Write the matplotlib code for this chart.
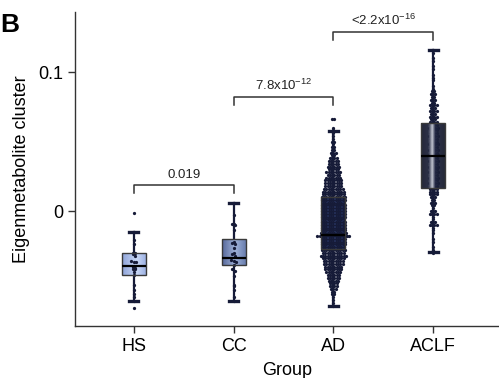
import numpy as np
import matplotlib
matplotlib.use('Agg')
import matplotlib.pyplot as plt
from matplotlib.colors import LinearSegmentedColormap

plt.rcParams['font.family'] = ['Liberation Sans', 'DejaVu Sans']
plt.rcParams['mathtext.fontset'] = 'custom'
plt.rcParams['mathtext.rm'] = 'Liberation Sans'
plt.rcParams['mathtext.it'] = 'Liberation Sans'
plt.rcParams['mathtext.bf'] = 'Liberation Sans:bold'

# data
groups = ['HS', 'CC', 'AD', 'ACLF']

hs_vals = [-0.0014, -0.015, -0.021, -0.024, -0.030, -0.030, -0.031, -0.032, -0.036,
           -0.037, -0.037, -0.040, -0.041, -0.042, -0.042, -0.044, -0.046, -0.053,
           -0.057, -0.060, -0.062, -0.065, -0.070]
cc_vals = [0.006, -0.003, -0.009, -0.0095, -0.010, -0.0137, -0.022, -0.023, -0.024,
           -0.0266, -0.030, -0.031, -0.032, -0.035, -0.036, -0.037, -0.039, -0.042,
           -0.043, -0.047, -0.053, -0.054, -0.057, -0.062, -0.065]

ad_levels = [0.066, 0.064, 0.062, 0.060, 0.058, 0.056, 0.054, 0.052, 0.050, 0.048,
             0.046, 0.044, 0.042, 0.040, 0.038, 0.036, 0.034, 0.032, 0.030, 0.028,
             0.026, 0.024, 0.022, 0.020, 0.018, 0.016, 0.014, 0.012, 0.010, 0.008,
             0.006, 0.004, 0.002, 0.000, -0.002, -0.004, -0.006, -0.008, -0.010, -0.012,
             -0.014, -0.016, -0.018, -0.020, -0.022, -0.024, -0.026, -0.028, -0.030, -0.032,
             -0.034, -0.036, -0.038, -0.040, -0.042, -0.044, -0.046, -0.048, -0.050, -0.052,
             -0.054, -0.056, -0.058, -0.060, -0.062, -0.064, -0.066, -0.068]
ad_counts = [2, 0, 0, 1, 1, 1, 1, 1, 2, 1,
             2, 2, 3, 2, 4, 5, 5, 6, 5, 7,
             6, 7, 8, 8, 8, 9, 10, 10, 11, 11,
             10, 11, 11, 11, 11, 11, 10, 11, 11, 11,
             11, 12, 15, 11, 11, 11, 10, 11, 10, 12,
             10, 9, 9, 8, 8, 7, 6, 6, 5, 4,
             4, 3, 2, 2, 1, 1, 1, 1]

aclf_levels = [0.116, 0.114, 0.110, 0.108, 0.104, 0.102, 0.098, 0.096, 0.094, 0.090,
               0.088, 0.086, 0.084, 0.082, 0.080, 0.078, 0.076, 0.074, 0.072, 0.070,
               0.068, 0.066, 0.064, 0.062, 0.060, 0.058, 0.056, 0.054, 0.052, 0.050,
               0.048, 0.046, 0.044, 0.042, 0.040, 0.038, 0.036, 0.034, 0.032, 0.030,
               0.028, 0.026, 0.024, 0.022, 0.020, 0.018, 0.016, 0.014, 0.012, 0.010,
               0.008, 0.006, 0.004, 0.002, 0.000, -0.002, -0.004, -0.006, -0.008, -0.010,
               -0.012, -0.014, -0.016, -0.020, -0.022, -0.026, -0.028, -0.030]
aclf_counts = [1, 1, 1, 1, 1, 1, 1, 1, 1, 1,
               1, 2, 3, 2, 3, 2, 4, 3, 4, 3,
               4, 3, 4, 4, 5, 4, 4, 5, 4, 4,
               5, 4, 5, 4, 5, 4, 5, 4, 5, 4,
               5, 4, 5, 4, 5, 4, 4, 4, 4, 3,
               2, 3, 2, 1, 3, 4, 1, 1, 3, 4,
               1, 1, 1, 1, 1, 1, 1, 1]

# box stats: whislo, q1, median, q3, whishi
box_lo = [-0.065, -0.065, -0.068, -0.0295]
box_q1 = [-0.046, -0.039, -0.0276, 0.0168]
box_med = [-0.0396, -0.034, -0.0173, 0.0396]
box_q3 = [-0.030, -0.020, 0.0099, 0.0635]
box_hi = [-0.015, 0.006, 0.0578, 0.1158]

# significance brackets
brk_pairs = [(0, 1), (1, 2), (2, 3)]
brk_y = [0.0187, 0.0818, 0.1285]
brk_text = ['0.019', r'7.8x10$^{\mathregular{-12}}$', r'<2.2x10$^{\mathregular{-16}}$']

box_colors = [[(0, '#8ea3d9'), (0.62, '#c9d8f6'), (1, '#9db1e3')],
              [(0, '#56689a'), (0.55, '#9fb1d8'), (1, '#687dae')],
              [(0, '#2c3d74'), (0.5, '#4a64a8'), (1, '#2e4180')],
              [(0, '#141829'), (0.3, '#1b2038'), (0.47, '#d0d4de'), (0.6, '#1e2440'), (1, '#141829')]]
box_above_dots = [False, False, False, True]
dot_color = '#161b38'

ad_vals = np.repeat(ad_levels, ad_counts)
aclf_vals = np.repeat(aclf_levels, aclf_counts)
all_vals = [np.array(hs_vals), np.array(cc_vals), ad_vals, aclf_vals]

fig = plt.figure(figsize=(4.99, 3.78), dpi=100)
ax = fig.add_axes([0.150, 0.1376, 0.850, 0.8307])

stats = []
for i in range(4):
    stats.append(dict(whislo=box_lo[i], q1=box_q1[i], med=box_med[i], q3=box_q3[i], whishi=box_hi[i]))

bp = ax.bxp(stats, positions=range(4), widths=0.24, capwidths=0.09, showfliers=False,
            patch_artist=True,
            boxprops=dict(facecolor='none', edgecolor='#3a3a3a', linewidth=1.0),
            whiskerprops=dict(color=dot_color, linewidth=1.6),
            capprops=dict(color=dot_color, linewidth=2.4),
            medianprops=dict(color='black', linewidth=1.6))
for b in bp['boxes']:
    b.set_zorder(6)
for m in bp['medians']:
    m.set_zorder(7)

# gradient fill clipped to each box
for i, b in enumerate(bp['boxes']):
    cmap = LinearSegmentedColormap.from_list('g%d' % i, box_colors[i])
    grad = np.linspace(0, 1, 200).reshape(1, -1)
    z = 5 if box_above_dots[i] else 2
    im = ax.imshow(grad, cmap=cmap, aspect='auto', zorder=z, alpha=0.93 if box_above_dots[i] else 1,
                   extent=[i - 0.12, i + 0.12, box_q1[i], box_q3[i]])
    im.set_clip_path(b)

# swarm of points
dx = 0.023
for i, v in enumerate(all_vals):
    bins = np.round(v / 0.002).astype(int)
    xs = np.zeros(len(v))
    for k in np.unique(bins):
        idx = np.where(bins == k)[0]
        n = len(idx)
        xs[idx] = i + (np.arange(n) - (n - 1) / 2) * dx
    ax.scatter(xs, v, s=5.5, color=dot_color, linewidths=0, zorder=4)

# brackets
for (a, b), y, t in zip(brk_pairs, brk_y, brk_text):
    ax.plot([a, a, b, b], [y - 0.0055, y, y, y - 0.0055], color='#333333', lw=1.1, zorder=6)
    ax.text((a + b) / 2, y + 0.003, t, ha='center', va='bottom', fontsize=9.5, color='#222222')

ax.set_xlim(-0.59, 3.66)
ax.set_ylim(-0.0827, 0.1432)
ax.set_xticks(range(4))
ax.set_xticklabels(groups)
ax.set_yticks([0, 0.1])
ax.set_yticklabels(['0', '0.1'])
ax.tick_params(axis='both', labelsize=13, color='#333333', width=1.0, length=5)
ax.tick_params(axis='x', pad=4)
ax.tick_params(axis='y', pad=3)
for s in ['top', 'right']:
    ax.spines[s].set_visible(False)
for s in ['left', 'bottom']:
    ax.spines[s].set_color('#333333')
    ax.spines[s].set_linewidth(1.0)
ax.set_xlabel('Group', fontsize=13, labelpad=5)
ax.set_ylabel('Eigenmetabolite cluster', fontsize=13, labelpad=6)

fig.text(0.0, 0.966, 'B', fontsize=19, fontweight='bold', va='top', ha='left')

fig.savefig('out.png', dpi=100)
